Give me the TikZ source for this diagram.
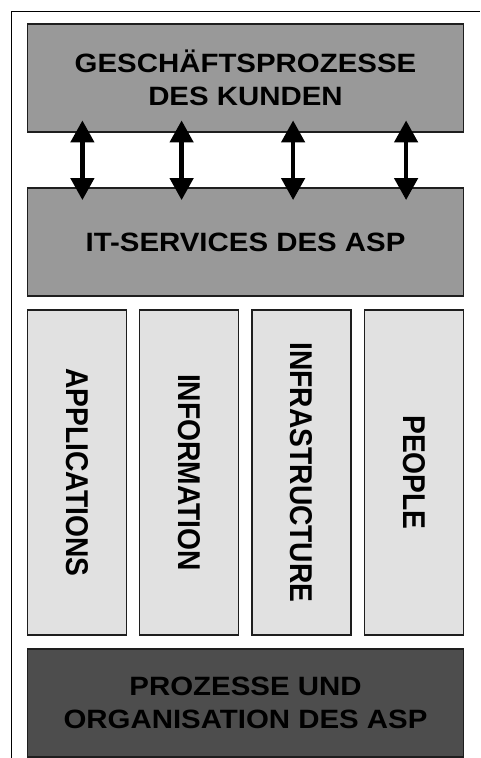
\documentclass[tikz,border=0pt]{standalone}
\usepackage{fontspec}
\usepackage{tikz}
\usetikzlibrary{arrows.meta}
\newfontfamily\layerfont{Liberation Sans}[FakeStretch=1.11]
\newfontfamily\pillarfont{Liberation Sans}[FakeStretch=0.895]
\definecolor{layergray}{HTML}{999999}
\definecolor{pillargray}{HTML}{E1E1E1}
\definecolor{basegray}{HTML}{4D4D4D}
\definecolor{edgegray}{HTML}{1E1E1E}
\tikzstyle{layer}  = [rectangle, draw=edgegray, line width=1.8pt, fill=layergray, minimum width=436pt, minimum height=108pt, align=center, font=\layerfont\bfseries\fontsize{26.5}{33.5}\selectfont]
\tikzstyle{base}   = [layer, fill=basegray]
\tikzstyle{pillar} = [rectangle, draw=edgegray, line width=1.8pt, fill=pillargray, minimum width=99pt, minimum height=325pt]
\tikzstyle{pillartext} = [rotate=-90, font=\pillarfont\bfseries\fontsize{31.5}{36}\selectfont]
\tikzstyle{dblarrow} = [{Triangle[length=22pt,width=23pt]}-{Triangle[length=22pt,width=23pt]}, line width=4.5pt, shorten <=-12.5pt, shorten >=-13pt]

\begin{document}
\begin{tikzpicture}[x=1pt, y=-1pt]
    \useasboundingbox (0,0) rectangle (480,758);
    \draw [line width=1.4pt] (11.7,758) -- (11.7,11.7) -- (480,11.7);

    \node (kunden) [layer] at (245.5,78) {GESCHÄFTSPROZESSE\\DES KUNDEN};
    \node (itserv) [layer] at (245.5,242) {IT-SERVICES DES ASP};

    \node (app)   [pillar] at (77,472.5) {};
    \node (info)  [pillar] at (189,472.5) {};
    \node (infra) [pillar] at (301.5,472.5) {};
    \node (people)[pillar] at (414,472.5) {};
    \node [pillartext] at (app) {APPLICATIONS};
    \node [pillartext] at (info) {INFORMATION};
    \node [pillartext] at (infra) {INFRASTRUCTURE};
    \node [pillartext] at (people) {PEOPLE};

    \node (asp) [base] at (245.5,703) {PROZESSE UND\\ORGANISATION DES ASP};

    % Verbindung Kunde <-> IT-Services
    \foreach \dx in {55.8, 155, 266.5, 379.5}
        \draw [dblarrow] ([xshift=\dx pt]kunden.south west) -- ([xshift=\dx pt]itserv.north west);
\end{tikzpicture}
\end{document}
